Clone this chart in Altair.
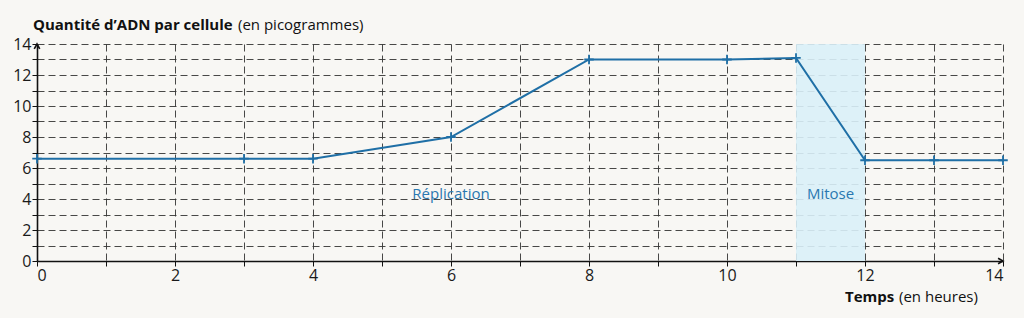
import altair as alt
import pandas as pd

# Data
hours = [0, 3, 4, 6, 8, 10, 11, 12, 13, 14]
dna = [6.6, 6.6, 6.6, 8.0, 13.0, 13.0, 13.1, 6.5, 6.5, 6.5]

phase_labels = ["Réplication", "Mitose"]
phase_x = [6.0, 11.5]
phase_y = [4.3, 4.3]

mitose_start = [11]
mitose_end = [12]

x_ticks = list(range(0, 15))
y_ticks = list(range(0, 15))

FONT = "Open Sans"
BLUE = "#1f6fa6"

df = pd.DataFrame({"t": hours, "q": dna})
labels = pd.DataFrame({"label": phase_labels, "t": phase_x, "q": phase_y})
band = pd.DataFrame({"t": mitose_start, "t2": mitose_end, "q": [0], "q2": [14]})
arrows = pd.DataFrame({"t": [0, 14], "q": [14, 0], "a": [0, 90]})

xscale = alt.Scale(domain=[0, 14], nice=False, zero=False)
yscale = alt.Scale(domain=[0, 14], nice=False, zero=False)

common = dict(
    grid=True, gridDash=[7, 4], gridColor="#333", gridWidth=0.9,
    domainColor="#111", domainWidth=1.6, tickColor="#111", tickSize=5,
    labelFont=FONT, labelFontSize=16, labelColor="#1a1a1a", labelPadding=1,
    title=None,
)
xaxis = alt.Axis(
    values=x_ticks,
    labelExpr="datum.value % 2 == 0 ? format(datum.value, 'd') : ''",
    **common,
)
yaxis = alt.Axis(
    values=y_ticks,
    labelExpr="datum.value % 2 == 0 ? format(datum.value, 'd') : ''",
    **common,
)

X = alt.X("t:Q", scale=xscale, axis=xaxis)
Y = alt.Y("q:Q", scale=yscale, axis=yaxis)

rect = alt.Chart(band).mark_rect(color="#d9eff8", opacity=0.9).encode(
    x=X, x2="t2:Q", y=Y, y2="q2:Q",
)

line = alt.Chart(df).mark_line(color=BLUE, strokeWidth=2).encode(x=X, y=Y)

pts = alt.Chart(df).mark_point(
    shape="M-1,0L1,0M0,-1L0,1", size=90, color=BLUE, strokeWidth=1.8, filled=False,
    opacity=1,
).encode(x=X, y=Y)

phase_text = alt.Chart(labels).mark_text(
    font=FONT, fontSize=15, color="#2a78b0"
).encode(x=X, y=Y, text="label:N")

arrow = alt.Chart(arrows).mark_point(
    shape="M-0.5,0.9L0,0L0.5,0.9", size=120, color="#111", strokeWidth=1.6,
    filled=False, opacity=1,
).encode(x=X, y=Y, angle=alt.Angle("a:Q", scale=None))

ytitle_b = alt.Chart(pd.DataFrame({"s": ["Quantité d’ADN par cellule"]})).mark_text(
    font=FONT, fontSize=15, fontWeight="bold", align="left", color="#111"
).encode(x=alt.value(-4), y=alt.value(-19), text="s:N")
ytitle_n = alt.Chart(pd.DataFrame({"s": ["(en picogrammes)"]})).mark_text(
    font=FONT, fontSize=15, align="left", color="#111"
).encode(x=alt.value(201), y=alt.value(-19), text="s:N")

xtitle_b = alt.Chart(pd.DataFrame({"s": ["Temps"]})).mark_text(
    font=FONT, fontSize=15, fontWeight="bold", align="left", color="#111"
).encode(x=alt.value(808), y=alt.value(253), text="s:N")
xtitle_n = alt.Chart(pd.DataFrame({"s": ["(en heures)"]})).mark_text(
    font=FONT, fontSize=15, align="left", color="#111"
).encode(x=alt.value(862), y=alt.value(253), text="s:N")

chart = alt.layer(
    rect, line, pts, phase_text, arrow, ytitle_b, ytitle_n, xtitle_b, xtitle_n
).properties(
    width=966, height=217,
    autosize=alt.AutoSizeParams(type="none"),
    padding={"left": 37, "top": 44, "right": 21, "bottom": 57},
    background="#f8f7f4",
).configure_view(stroke=None)

chart.save("out.html", embed_options={"renderer": "svg", "actions": False})
